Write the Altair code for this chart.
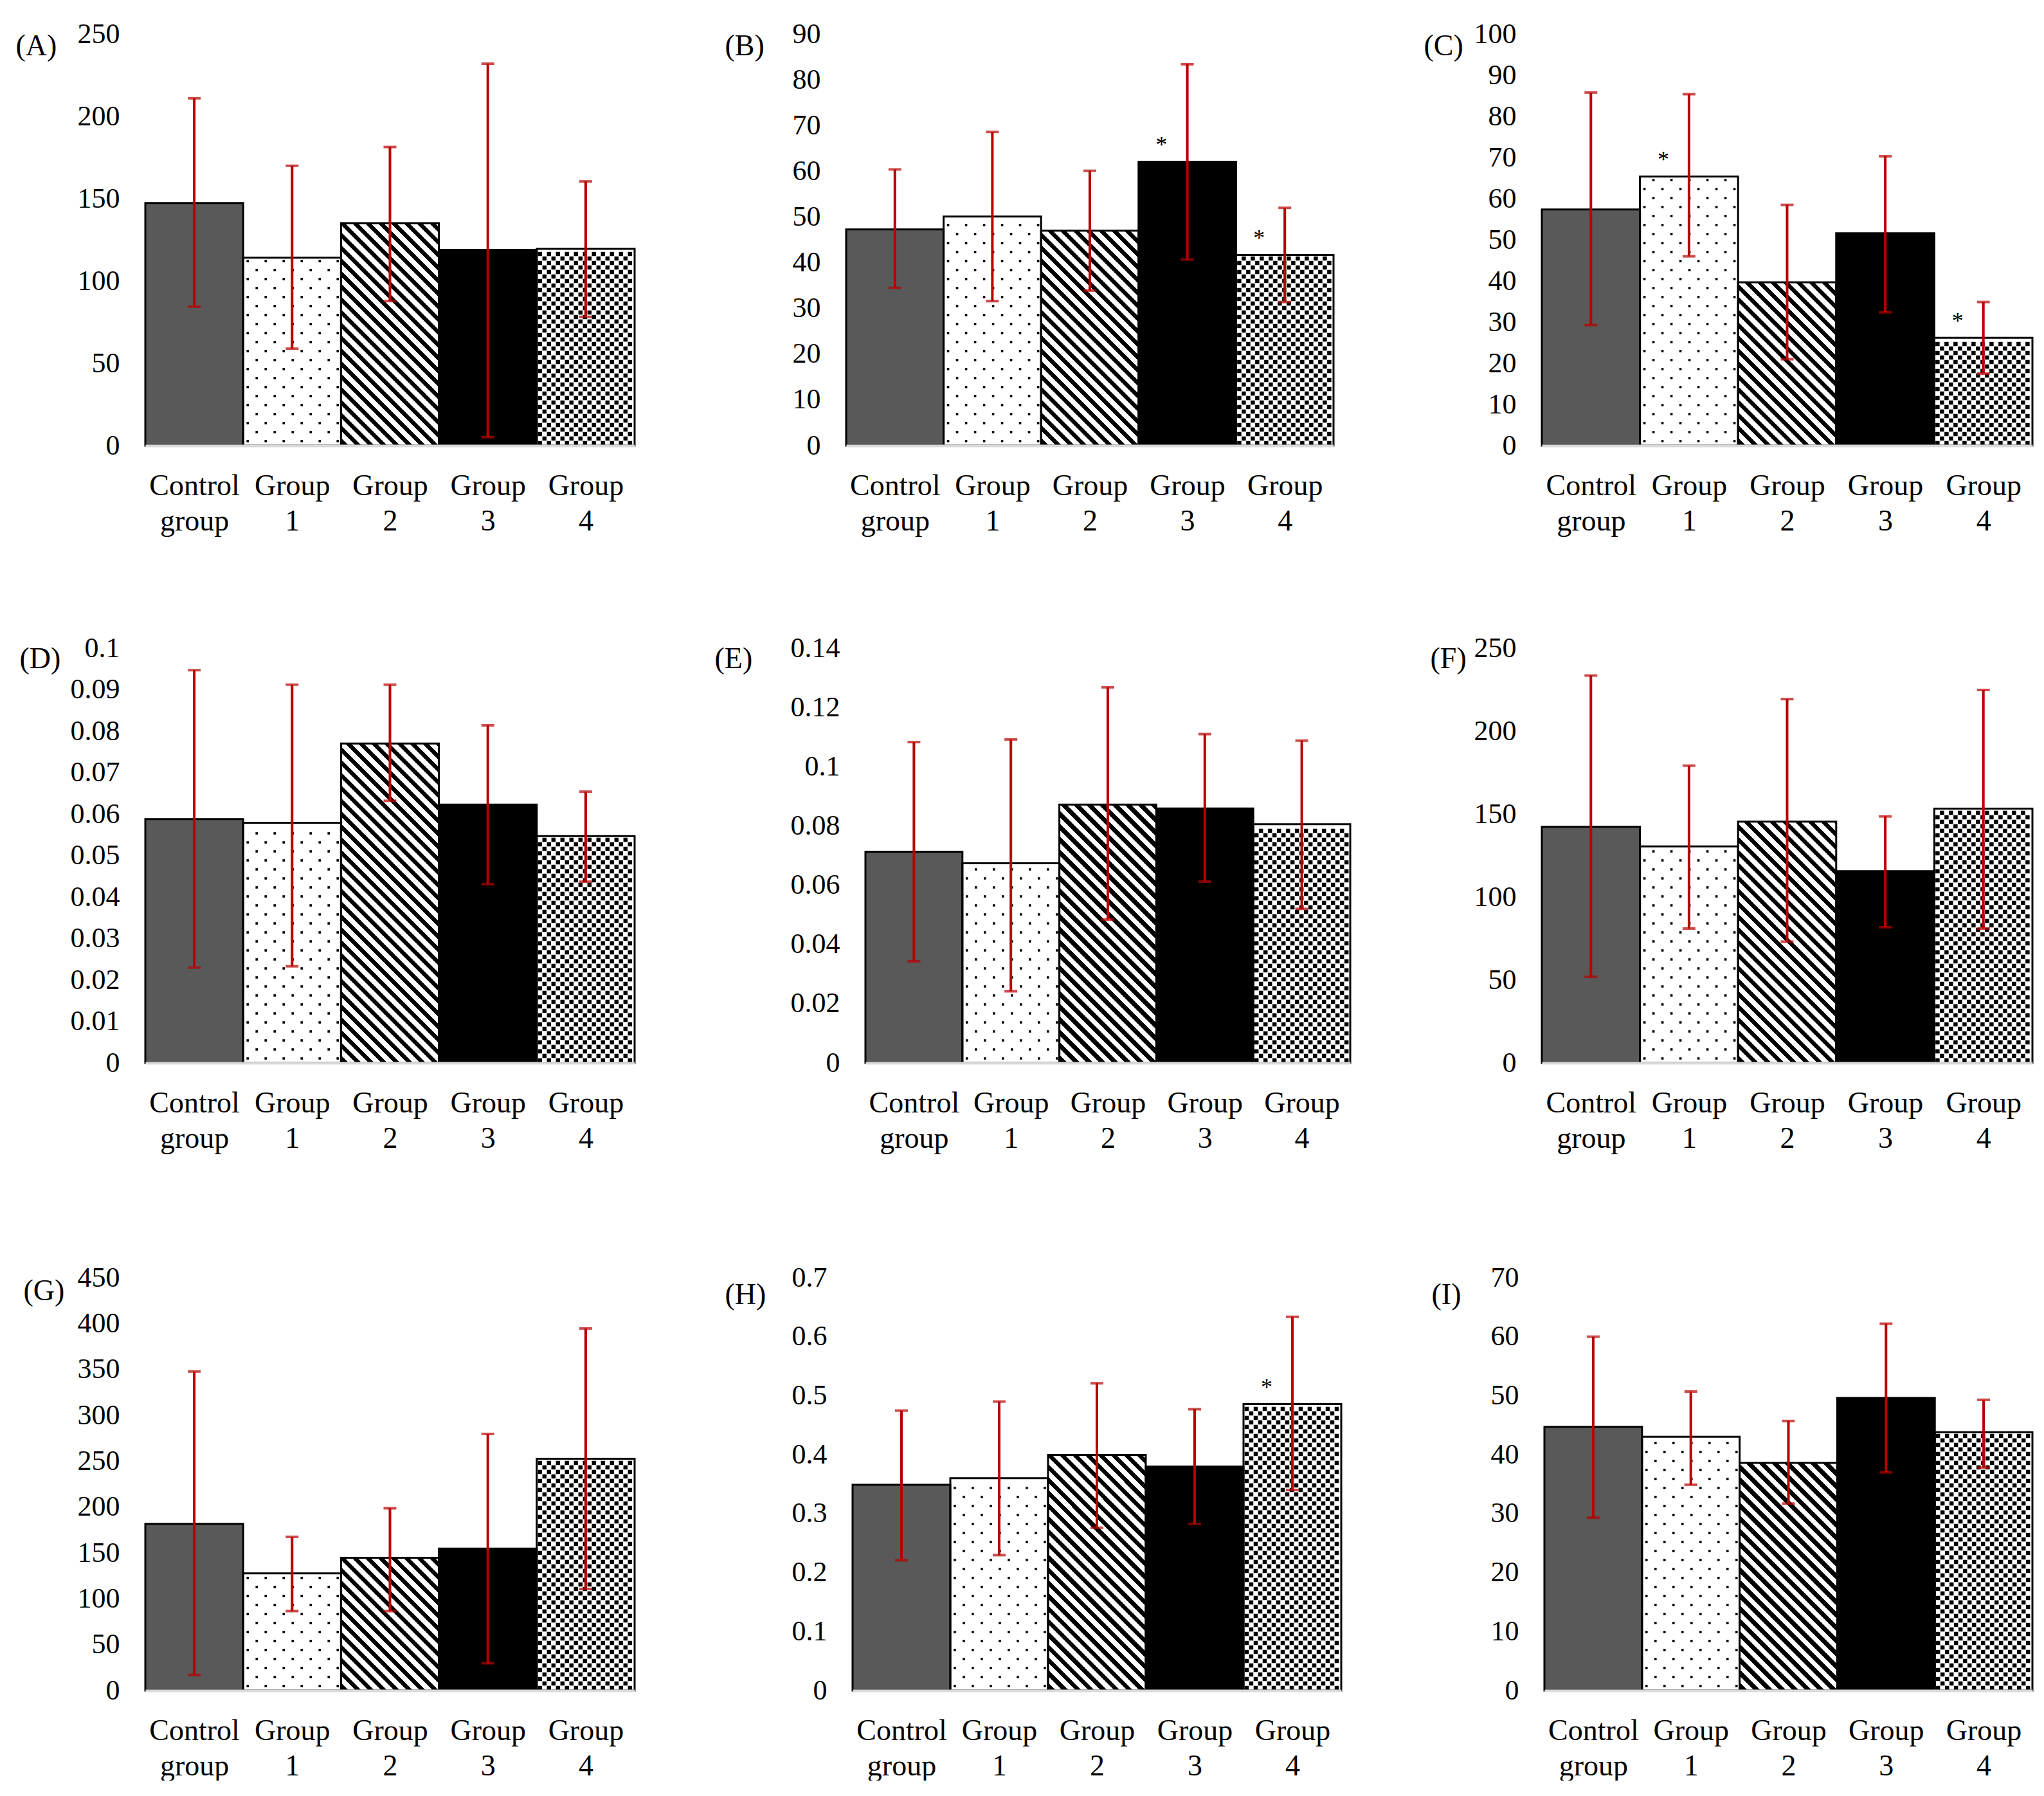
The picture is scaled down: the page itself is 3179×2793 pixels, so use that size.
import json
import altair as alt
import pandas as pd

# ---------------- data ----------------
categories = ["Control group", "Group 1", "Group 2", "Group 3", "Group 4"]
panel_labels = ["(A)", "(B)", "(C)", "(D)", "(E)", "(F)", "(G)", "(H)", "(I)"]
y_max = [250, 90, 100, 0.1, 0.14, 250, 450, 0.7, 70]
y_step = [50, 10, 10, 0.01, 0.02, 50, 50, 0.1, 10]
y_format = ["d", "d", "d", ".2~f", ".2~f", "d", "d", ".1~f", "d"]

mean_A = [147.4, 114.2, 135.2, 118.9, 119.5]
upper_A = [211.0, 170.0, 181.4, 232.0, 160.5]
lower_A = [84.4, 58.9, 87.8, 5.1, 78.2]

mean_B = [47.3, 50.1, 47.0, 62.1, 41.7]
upper_B = [60.4, 68.6, 60.1, 83.4, 52.0]
lower_B = [34.5, 31.6, 33.9, 40.7, 31.4]

mean_C = [57.4, 65.4, 39.7, 51.6, 26.2]
upper_C = [85.8, 85.4, 58.5, 70.3, 34.9]
lower_C = [29.3, 46.0, 21.0, 32.4, 17.5]

mean_D = [0.0588, 0.0579, 0.0770, 0.0623, 0.0547]
upper_D = [0.0947, 0.0912, 0.0912, 0.0814, 0.0654]
lower_D = [0.0230, 0.0233, 0.0632, 0.0431, 0.0437]

mean_E = [0.0713, 0.0674, 0.0872, 0.0859, 0.0806]
upper_E = [0.1083, 0.1092, 0.1268, 0.1110, 0.1088]
lower_E = [0.0343, 0.0242, 0.0484, 0.0612, 0.0520]

mean_F = [142.3, 130.5, 145.4, 115.6, 153.3]
upper_F = [233.5, 179.2, 219.3, 148.6, 224.8]
lower_F = [51.9, 81.0, 73.1, 81.8, 81.0]

mean_G = [181.7, 127.8, 144.8, 154.7, 252.7]
upper_G = [347.8, 167.5, 198.7, 279.7, 394.7]
lower_G = [17.0, 86.6, 86.6, 29.8, 110.7]

mean_H = [0.349, 0.360, 0.3997, 0.3798, 0.4858]
upper_H = [0.4747, 0.490, 0.521, 0.477, 0.6337]
lower_H = [0.2208, 0.2296, 0.276, 0.2826, 0.340]

mean_I = [44.7, 43.05, 38.6, 49.6, 43.8]
upper_I = [60.0, 50.7, 45.7, 62.2, 49.3]
lower_I = [29.3, 34.9, 31.7, 37.0, 37.8]

# significance marks (group index with "*")
stars_A, stars_B, stars_C = [], [3, 4], [1, 4]
stars_D, stars_E, stars_F = [], [], []
stars_G, stars_H, stars_I = [], [4], []

means = [mean_A, mean_B, mean_C, mean_D, mean_E, mean_F, mean_G, mean_H, mean_I]
uppers = [upper_A, upper_B, upper_C, upper_D, upper_E, upper_F, upper_G, upper_H, upper_I]
lowers = [lower_A, lower_B, lower_C, lower_D, lower_E, lower_F, lower_G, lower_H, lower_I]
stars = [stars_A, stars_B, stars_C, stars_D, stars_E, stars_F, stars_G, stars_H, stars_I]

# ---------------- layout / style ----------------
FONT = "Liberation Serif"
FS = 44
FSX = 46
plot_w = [761, 758, 763, 761, 754, 763, 761, 760, 759]
row_h = [640, 645, 642]
title_x = [-202, -189, -184, -196, -235, -174, -190, -199, -176]
title_y = [18, 18, 18, 16, 16, 16, 20, 26, 26]
row_spacing = [138, 122, 138]
row_extra = [0, 15, 0]      # extra bottom room under a row (invisible axis title)
base_fill = ["#595959", "white", "white", "black", "white"]
ERR = "#B80000"

label_lines = [c.split(" ") for c in categories]
label_expr = json.dumps(label_lines) + "[floor(datum.value)]"


def stripe_gradient(w, h, period=20.0, black=9.5):
    # diagonal "\" stripes, expressed in bounding-box units of the bar
    k = (w + h) / (w * w + h * h)
    stops = [{"offset": 0, "color": "white"}]
    n = 0
    while True:
        a = -h + n * period + 3
        b = a + black
        n += 1
        if a >= w:
            break
        ta = max(0.0, (a + h) / (w + h))
        tb = min(1.0, (b + h) / (w + h))
        stops += [
            {"offset": round(ta, 5), "color": "white"},
            {"offset": round(ta, 5), "color": "black"},
            {"offset": round(tb, 5), "color": "black"},
            {"offset": round(tb, 5), "color": "white"},
        ]
        if tb >= 1.0:
            break
    return {"gradient": "linear", "x1": 0, "y1": 1, "x2": round(k * w, 5),
            "y2": round(1 - k * h, 5), "stops": stops}


def panel(p):
    row = p // 3
    W = plot_w[p]
    H = row_h[row]
    ymax = y_max[p]
    bw = W / 5.0
    df = pd.DataFrame({
        "idx": list(range(5)),
        "cat": categories,
        "mean": means[p],
        "lo": lowers[p],
        "hi": uppers[p],
    })
    df["x0"] = df["idx"]
    df["x1"] = df["idx"] + 1
    df["xc"] = df["idx"] + 0.5
    df["star"] = ["*" if i in stars[p] else "" for i in range(5)]

    # texture points (dots for Group 1, confetti squares for Group 4)
    tex = []
    h1 = means[p][1] / ymax * H
    r = 0
    py = 7.0
    while py < h1 - 3:
        off = 7.0 if r % 2 == 0 else 21.0
        px = off
        while px < bw - 3:
            tex.append({"tx": 1 + px / bw, "ty": py / H * ymax, "kind": "dot"})
            px += 28.0
        r += 1
        py += 14.0
    h4 = means[p][4] / ymax * H
    py = 4.0
    while py < h4 - 4:
        px = 5.0
        while px < bw - 4:
            tex.append({"tx": 4 + px / bw, "ty": py / H * ymax, "kind": "sq"})
            if px + 7 < bw - 4 and py + 7 < h4 - 4:
                tex.append({"tx": 4 + (px + 7) / bw, "ty": (py + 7) / H * ymax, "kind": "sq"})
            px += 14.0
        py += 14.0
    tdf = pd.DataFrame(tex)

    xs = alt.Scale(domain=[0, 5], nice=False, zero=False)
    ys = alt.Scale(domain=[0, ymax], nice=False)
    nt = int(round(ymax / y_step[p]))
    yvals = [round(i * y_step[p], 6) for i in range(nt + 1)]

    xaxis_kw = dict(values=[0.5, 1.5, 2.5, 3.5, 4.5], labelExpr=label_expr,
                    ticks=False, grid=False, domainColor="#d9d9d9", domainWidth=4,
                    labelFont=FONT, labelFontSize=FSX, labelColor="black",
                    labelPadding=40, labelLineHeight=55, labelAngle=0,
                    labelBaseline="top", labelOverlap=False, labelFlush=False, zindex=1)
    if row_extra[row] > 0:
        xaxis_kw.update(title=".", titleOpacity=0, titleFontSize=4,
                        titlePadding=row_extra[row])
    else:
        xaxis_kw.update(title=None)
    xaxis = alt.Axis(**xaxis_kw)
    yaxis = alt.Axis(values=yvals, format=y_format[p], domain=False, ticks=False,
                     grid=False, labelFont=FONT, labelFontSize=FS, labelColor="black",
                     labelPadding=40, title=panel_labels[p], titleAngle=0,
                     titleX=title_x[p], titleY=title_y[p], titleAlign="left",
                     titleBaseline="middle", titleFont=FONT, titleFontSize=46,
                     titleFontWeight="normal", titleColor="black")

    def X(f):
        return alt.X(f, scale=xs, axis=xaxis)

    def Y(f):
        return alt.Y(f, scale=ys, axis=yaxis)

    base = alt.Chart(df)
    fill_bars = base.mark_bar(strokeWidth=0).encode(
        x=X("x0:Q"), x2="x1", y=Y("mean:Q"), y2=alt.datum(0),
        fill=alt.Fill("cat:N", scale=alt.Scale(domain=categories, range=base_fill), legend=None),
    )
    g2 = df[df["idx"] == 2]
    h2 = means[p][2] / ymax * H
    stripe = alt.Chart(g2).mark_bar(fill=stripe_gradient(bw, h2), strokeWidth=0).encode(
        x=X("x0:Q"), x2="x1", y=Y("mean:Q"), y2=alt.datum(0),
    )
    dots = alt.Chart(tdf).transform_filter("datum.kind == 'dot'").mark_point(
        shape="square", filled=True, size=13, color="black", opacity=1, strokeWidth=0
    ).encode(x=X("tx:Q"), y=Y("ty:Q"))
    squares = alt.Chart(tdf).transform_filter("datum.kind == 'sq'").mark_point(
        shape="square", filled=True, size=42, color="black", opacity=1, strokeWidth=0
    ).encode(x=X("tx:Q"), y=Y("ty:Q"))
    outline = base.mark_bar(fillOpacity=0, stroke="black", strokeWidth=3).encode(
        x=X("x0:Q"), x2="x1", y=Y("mean:Q"), y2=alt.datum(0),
    )
    err = base.mark_rule(color=ERR, strokeWidth=4).encode(
        x=X("xc:Q"), y=Y("lo:Q"), y2="hi",
    )
    cap_hi = base.mark_tick(color=ERR, orient="horizontal", size=20, thickness=4).encode(
        x=X("xc:Q"), y=Y("hi:Q"))
    cap_lo = base.mark_tick(color=ERR, orient="horizontal", size=20, thickness=4).encode(
        x=X("xc:Q"), y=Y("lo:Q"))
    star = base.mark_text(font=FONT, fontSize=36, color="black", dx=-40, dy=-14,
                          baseline="alphabetic", align="center").encode(
        x=X("xc:Q"), y=Y("mean:Q"), text="star:N")
    return alt.layer(fill_bars, stripe, dots, squares, outline, err, cap_hi, cap_lo,
                     star).properties(width=W, height=H)


rows = []
for r in range(3):
    rows.append(alt.hconcat(*[panel(3 * r + c) for c in range(3)], spacing=row_spacing[r]))

chart = alt.vconcat(*rows, spacing=153).properties(
    padding={"left": 16, "top": 23, "right": 0, "bottom": 0},
    background="white",
).configure_view(strokeWidth=0)

chart.save("out.html", embed_options={"renderer": "svg", "actions": False})
